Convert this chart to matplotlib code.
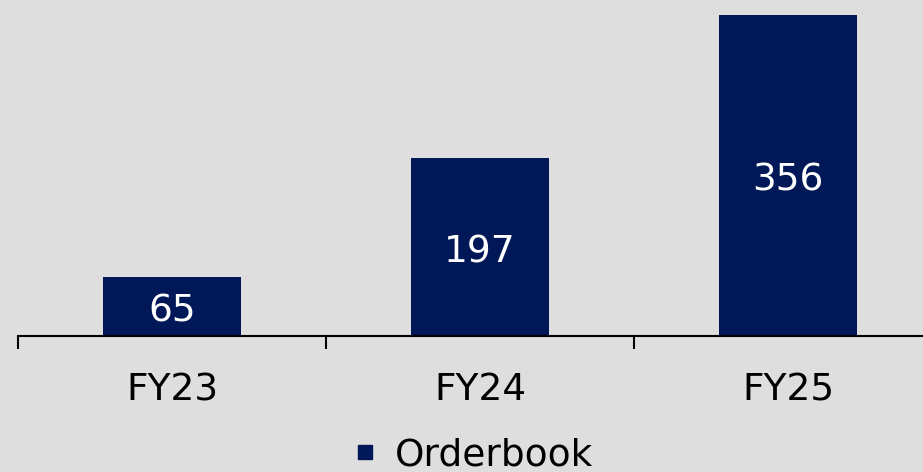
import matplotlib
matplotlib.use("Agg")
import matplotlib.pyplot as plt
from matplotlib.lines import Line2D
from matplotlib.transforms import offset_copy

categories = ["FY23", "FY24", "FY25"]
values = [65, 197, 356]
series_name = "Orderbook"

BG = "#DEDEDE"
BAR = "#001857"
plt.rcParams['font.family'] = ['DejaVu Sans']

W, H = 923, 472
fig = plt.figure(figsize=(W/100, H/100), dpi=100, facecolor=BG)
ax = fig.add_axes([18/W, 1-336/H, 924/W, 336/H])
ax.set_facecolor(BG)

x = list(range(len(categories)))
ax.bar(x, values, width=0.45, color=BAR, zorder=2)
ax.set_xlim(-0.5, len(categories)-0.5)
ax.set_ylim(0, 336/0.9017)

FS = 27
val_tr = offset_copy(ax.transData, fig=fig, x=0, y=-1, units='dots')
for xi, v in zip(x, values):
    ax.text(xi, v/2, str(v), ha='center', va='center_baseline', color='white', fontsize=FS,
            transform=val_tr)

for xi, c in zip(x, categories):
    ax.text(xi, -0.1548 + 2/336, c, ha='center', va='center_baseline', color='black', fontsize=FS,
            transform=ax.get_xaxis_transform())

for s in ['top', 'right', 'left']:
    ax.spines[s].set_visible(False)
ax.spines['bottom'].set_linewidth(1.5)
ax.spines['bottom'].set_color('black')
ax.set_yticks([])
ax.set_xticks([i - 0.5 for i in range(len(categories)+1)])
ax.set_xticklabels([])
ax.tick_params(axis='x', direction='out', length=9, width=1.5, color='black')

handle = Line2D([], [], marker='s', linestyle='', markersize=10, color=BAR, label=series_name)
fig.legend(handles=[handle],
           loc='center', bbox_to_anchor=(474.5/W, 1-455/H), frameon=False,
           fontsize=FS, handlelength=0.5, handletextpad=0.55)

fig.savefig("out.png", dpi=100, facecolor=BG)
